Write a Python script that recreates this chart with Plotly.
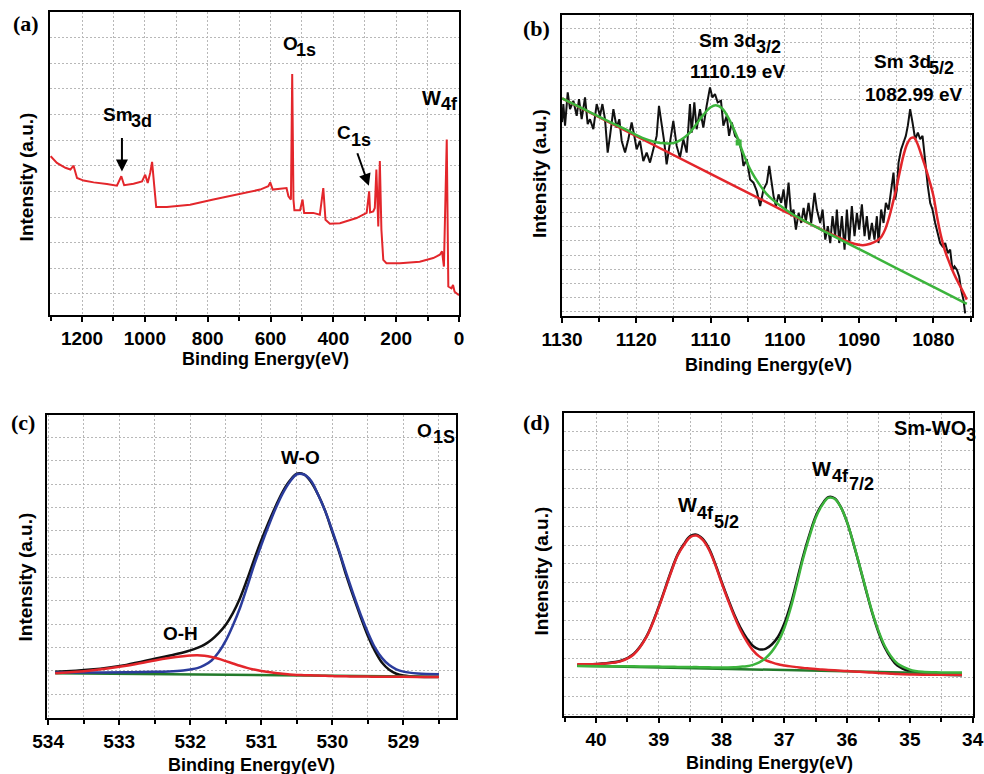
import plotly.graph_objects as go

W, H = 984, 774
SANS = "Liberation Sans"
SERIF = "Liberation Serif"

# ---------------- (a) survey spectrum ----------------
survey_be = [1300, 1280, 1253, 1237, 1227, 1216, 1195, 1163, 1121, 1089, 1075, 1066, 1036, 1009,
             999, 991, 983, 977, 970, 964, 930, 856, 782, 697, 633, 607, 601, 593, 549, 543, 535,
             531, 527, 524, 506, 498, 493, 464, 443, 432, 425, 411, 379, 326, 294, 286, 283, 273,
             268, 263, 257, 252, 247, 241, 231, 188, 125, 82, 61, 54, 48, 39, 34, 24, 19, 14, 3, 0]
survey_int = [5.37, 5.11, 4.92, 4.85, 5.00, 4.52, 4.42, 4.35, 4.29, 4.22, 4.59, 4.24, 4.30, 4.39,
              4.65, 4.33, 4.72, 5.15, 4.20, 3.39, 3.39, 3.48, 3.68, 3.90, 4.07, 4.20, 4.35, 4.07,
              4.13, 3.81, 3.68, 8.57, 3.68, 3.26, 3.26, 3.68, 3.16, 3.16, 3.09, 4.13, 2.89, 2.74,
              2.76, 2.96, 3.16, 4.00, 3.18, 3.22, 3.35, 4.85, 2.63, 5.18, 2.50, 1.33, 1.20, 1.20,
              1.26, 1.40, 1.53, 1.66, 1.07, 6.02, 0.29, 0.22, 0.35, 0.09, 0.00, -0.05]

# ---------------- (b) Sm 3d ----------------
sm_be = [1130.0, 1129.83, 1129.6, 1129.24, 1128.93, 1128.48, 1128.03, 1127.72, 1127.36, 1126.91, 1126.55,
         1126.24, 1125.79, 1125.34, 1124.89, 1124.57, 1124.22, 1123.86, 1123.54, 1123.09, 1122.65,
         1122.29, 1121.97, 1121.52, 1121.08, 1120.63, 1120.27, 1119.96, 1119.51, 1119.06, 1118.61,
         1118.16, 1117.71, 1117.26, 1116.95, 1116.59, 1116.23, 1115.92, 1115.47, 1115.02, 1114.57,
         1114.12, 1113.67, 1113.22, 1112.78, 1112.55, 1112.19, 1111.88, 1111.43, 1110.98, 1110.53,
         1110.08, 1109.76, 1109.41, 1109.05, 1108.6, 1108.28, 1107.83, 1107.51, 1107.15, 1106.7,
         1106.25, 1105.8, 1105.58, 1105.13, 1104.68, 1104.23, 1103.78, 1103.33, 1102.88,
         1102.42, 1102.10, 1101.52, 1101.20, 1100.85, 1100.49, 1100.17, 1099.86, 1099.50, 1099.14,
         1098.83, 1098.51, 1098.15, 1097.79, 1097.48, 1097.17, 1096.81, 1096.45, 1096.00, 1095.69,
         1095.24, 1094.92, 1094.56, 1094.21, 1093.89, 1093.58, 1093.22, 1093.00, 1092.68, 1092.32,
         1091.96, 1091.65, 1091.33, 1090.98, 1090.62, 1090.30, 1089.99, 1089.63, 1089.27, 1088.96,
         1088.64, 1088.28, 1087.93, 1087.61, 1087.39, 1087.03, 1086.71, 1086.40, 1086.04, 1085.68,
         1085.37, 1085.14, 1084.92, 1084.69, 1084.34, 1084.02, 1083.71, 1083.44, 1083.13, 1082.81,
         1082.45, 1082.09, 1081.78, 1081.46, 1081.11, 1080.75, 1080.43, 1080.12, 1079.76, 1079.40,
         1079.09, 1078.77, 1078.41, 1078.06, 1077.74, 1077.43, 1077.16, 1076.84, 1076.53, 1076.26,
         1075.95, 1075.72]
sm_int = [13.4, 14.68, 13.15, 15.51, 14.32, 14.91, 13.85, 15.03, 13.61, 15.15, 13.26,
          13.61, 12.90, 14.68, 13.85, 14.68, 13.61, 11.25, 12.43, 14.32, 13.02,
          13.61, 12.07, 11.25, 12.19, 13.38, 12.43, 11.48, 12.07, 10.65, 11.25,
          10.54, 11.48, 12.43, 14.56, 13.38, 11.96, 10.42, 11.96, 13.49, 11.72,
          10.89, 12.19, 11.25, 14.68, 12.66, 14.80, 12.90, 14.32, 13.02, 14.56,
          15.86, 15.15, 15.39, 14.80, 14.91, 13.15, 13.85, 12.43, 13.38, 12.43,
          12.19, 11.25, 10.30, 10.78, 9.35, 9.12, 8.52, 7.46, 8.64,
          9.12, 10.30, 8.17, 7.46, 8.29, 7.69, 8.64, 7.22, 9.12, 6.75,
          7.22, 5.80, 6.98, 6.27, 7.34, 6.39, 7.69, 6.27, 8.40, 7.22,
          6.27, 7.22, 5.09, 6.04, 4.85, 6.75, 5.33, 7.22, 4.85, 6.75,
          4.38, 7.22, 4.85, 7.46, 5.33, 6.98, 5.80, 7.58, 5.33, 6.75,
          5.09, 6.27, 5.09, 6.75, 4.85, 7.22, 6.27, 7.69, 7.22, 8.64,
          9.83, 7.93, 8.64, 10.54, 11.48, 11.96, 12.43, 13.15, 14.32, 13.38,
          12.19, 12.66, 12.19, 12.43, 10.54, 8.88, 7.69, 7.22, 6.27, 5.56,
          4.85, 4.62, 4.85, 4.14, 4.38, 2.96, 3.20, 2.96, 2.49, 1.54,
          0.83, -0.12]

fit32_be = [1130, 1127, 1124, 1121.5, 1119, 1117.5, 1116, 1115, 1114, 1113, 1112, 1111, 1110, 1109.3,
            1108.5, 1107.5, 1106.5, 1105.5, 1104.5, 1103.5, 1102.5, 1101.5, 1100.5, 1099, 1097, 1095,
            1090, 1085, 1080, 1075.5]
fit32_int = [15.08, 14.30, 13.52, 12.90, 12.25, 12.00, 11.90, 11.92, 12.15, 12.55, 13.20, 13.90, 14.45,
             14.60, 14.40, 13.60, 12.45, 11.05, 9.90, 9.05, 8.35, 7.85, 7.45, 6.90, 6.32, 5.76,
             4.42, 3.08, 1.75, 0.54]

fit52_be = [1130, 1120, 1110, 1100, 1095, 1093, 1091, 1089.5, 1088.5, 1087.5, 1087, 1086.5, 1086,
            1085.5, 1085, 1084.5, 1084, 1083.5, 1083, 1082.6, 1082.2, 1081.5, 1081, 1080.5, 1080,
            1079.5, 1079, 1078.5, 1078, 1077.5, 1077, 1076.5, 1076, 1075.5]
fit52_int = [15.08, 12.41, 9.74, 7.08, 5.78, 5.30, 4.85, 4.70, 4.80, 5.05, 5.30, 5.80, 6.60,
             7.60, 8.70, 9.95, 11.10, 11.90, 12.28, 12.30, 11.95, 10.90, 10.10, 9.20, 8.20,
             6.70, 5.40, 4.40, 3.67, 3.00, 2.42, 1.90, 1.40, 0.85]

sm_marker_be = [1106.22]
sm_marker_int = [11.96]

# ---------------- (c) O 1s ----------------
o_be = [533.9, 533.4, 532.9, 532.5, 532.3, 532.1, 532.0, 531.9, 531.8, 531.7, 531.6, 531.5, 531.4,
        531.3, 531.2, 531.1, 531.0, 530.9, 530.8, 530.7, 530.6, 530.5, 530.4, 530.3, 530.2, 530.1,
        530.0, 529.9, 529.8, 529.7, 529.6, 529.5, 529.4, 529.3, 529.2, 529.1, 529.0, 528.8, 528.5]
o_total = [0.96, 1.06, 1.26, 1.52, 1.65, 1.79, 1.88, 1.99, 2.13, 2.34, 2.62, 2.98, 3.48,
           4.12, 4.92, 5.78, 6.60, 7.35, 8.05, 8.68, 9.15, 9.45, 9.42, 9.10, 8.55, 7.85,
           6.95, 6.05, 5.05, 4.15, 3.30, 2.50, 1.85, 1.35, 1.05, 0.88, 0.80, 0.75, 0.74]
o_wo = [0.93, 0.93, 0.94, 0.96, 0.98, 1.02, 1.06, 1.12, 1.25, 1.45, 1.80, 2.30, 2.95,
        3.70, 4.60, 5.55, 6.40, 7.20, 7.95, 8.60, 9.10, 9.43, 9.42, 9.15, 8.55, 7.85,
        7.00, 6.10, 5.15, 4.25, 3.40, 2.65, 2.00, 1.55, 1.25, 1.07, 0.97, 0.89, 0.86]
o_oh = [0.90, 1.02, 1.22, 1.45, 1.55, 1.63, 1.66, 1.67, 1.65, 1.60, 1.52, 1.42, 1.32,
        1.22, 1.13, 1.06, 1.00, 0.95, 0.91, 0.88, 0.85, 0.83, 0.82, 0.81, 0.80, 0.79,
        0.78, 0.77, 0.77, 0.76, 0.76, 0.76, 0.75, 0.75, 0.75, 0.75, 0.75, 0.74, 0.74]
o_base_be = [533.9, 528.5]
o_base = [0.90, 0.75]

# ---------------- (d) W 4f ----------------
w_be = [40.3, 39.9, 39.6, 39.4, 39.2, 39.0, 38.9, 38.8, 38.7, 38.6, 38.5, 38.4, 38.3, 38.2, 38.1,
        38.0, 37.9, 37.8, 37.7, 37.6, 37.5, 37.4, 37.3, 37.2, 37.1, 37.0, 36.9, 36.8, 36.7, 36.6,
        36.5, 36.4, 36.3, 36.2, 36.1, 36.0, 35.9, 35.8, 35.7, 35.6, 35.5, 35.4, 35.3, 35.2, 35.0,
        34.8, 34.5, 34.17]
w_total = [1.64, 1.72, 1.87, 2.23, 3.13, 4.74, 5.69, 6.65, 7.49, 8.05, 8.47, 8.55, 8.32, 7.81, 7.00,
           6.06, 5.17, 4.33, 3.62, 3.06, 2.65, 2.47, 2.50, 2.73, 3.14, 3.84, 4.84, 6.11, 7.42, 8.55,
           9.53, 10.15, 10.54, 10.48, 10.01, 9.20, 8.09, 6.87, 5.61, 4.40, 3.38, 2.57, 2.01, 1.61,
           1.30, 1.18, 1.12, 1.10]
w_52 = [1.68, 1.71, 1.85, 2.20, 3.10, 4.70, 5.65, 6.60, 7.45, 8.00, 8.42, 8.50, 8.27, 7.75, 6.95,
        6.00, 5.10, 4.25, 3.50, 2.90, 2.42, 2.10, 1.90, 1.78, 1.68, 1.62, 1.57, 1.53, 1.49, 1.46,
        1.43, 1.40, 1.38, 1.36, 1.34, 1.32, 1.30, 1.28, 1.26, 1.24, 1.22, 1.20, 1.18, 1.16, 1.14,
        1.13, 1.12, 1.12]
w_72 = [1.59, 1.58, 1.57, 1.57, 1.56, 1.56, 1.55, 1.55, 1.54, 1.54, 1.53, 1.53, 1.52, 1.52, 1.51,
        1.51, 1.51, 1.52, 1.55, 1.58, 1.65, 1.78, 2.00, 2.35, 2.85, 3.60, 4.65, 5.95, 7.30, 8.45,
        9.45, 10.10, 10.50, 10.45, 10.00, 9.20, 8.10, 6.90, 5.65, 4.45, 3.45, 2.65, 2.10, 1.72,
        1.40, 1.28, 1.25, 1.24]
w_base_be = [40.3, 34.17]
w_base = [1.60, 1.18]

# ---------------- styling ----------------
RED = "#e3262b"
GREEN = "#3cb43c"
DKGREEN = "#237a2b"
BLUE = "#2b3c9c"
BLACK = "#111111"
GRID = "#b8b8b8"


def dom(p0, p1, size, flip=False):
    if flip:
        return [1 - p1 / size, 1 - p0 / size]
    return [p0 / size, p1 / size]


def xax(domain, rng, dtick, minor, anchor):
    return dict(domain=domain, range=rng, dtick=dtick, tick0=0, anchor=anchor, automargin=False,
                showline=True, linecolor="black", linewidth=2, mirror=True,
                ticks="outside", ticklen=5, tickwidth=2, tickcolor="black",
                showgrid=True, gridcolor=GRID, griddash="2px,2px", gridwidth=1,
                minor=dict(dtick=minor, tick0=0, ticks="outside", ticklen=4, tickwidth=1.5,
                           tickcolor="black", showgrid=True, gridcolor=GRID,
                           griddash="2px,2px", gridwidth=1),
                tickfont=dict(family=SANS, size=19, color="black", weight="bold"),
                zeroline=False, fixedrange=True)


def yax(domain, rng, anchor):
    return dict(domain=domain, range=rng, dtick=1, tick0=0, anchor=anchor, automargin=False,
                showline=True, linecolor="black", linewidth=2, mirror=True,
                ticks="", showticklabels=False,
                showgrid=True, gridcolor=GRID, griddash="2px,2px", gridwidth=1,
                zeroline=False, fixedrange=True)


fig = go.Figure()

# (a)
fig.add_trace(go.Scatter(x=survey_be, y=survey_int, mode="lines",
                         line=dict(color=RED, width=2), xaxis="x", yaxis="y"))
# (b)
fig.add_trace(go.Scatter(x=sm_be, y=sm_int, mode="lines",
                         line=dict(color=BLACK, width=2), xaxis="x2", yaxis="y2"))
fig.add_trace(go.Scatter(x=fit52_be, y=fit52_int, mode="lines",
                         line=dict(color=RED, width=2.5, shape="spline"), xaxis="x2", yaxis="y2"))
fig.add_trace(go.Scatter(x=fit32_be, y=fit32_int, mode="lines",
                         line=dict(color=GREEN, width=2.5, shape="spline"), xaxis="x2", yaxis="y2"))
fig.add_trace(go.Scatter(x=sm_marker_be, y=sm_marker_int, mode="markers",
                         marker=dict(color=GREEN, size=6, symbol="square"), xaxis="x2", yaxis="y2"))
# (c)
fig.add_trace(go.Scatter(x=o_be, y=o_total, mode="lines",
                         line=dict(color=BLACK, width=2.5, shape="spline"), xaxis="x3", yaxis="y3"))
fig.add_trace(go.Scatter(x=o_base_be, y=o_base, mode="lines",
                         line=dict(color=DKGREEN, width=2.5), xaxis="x3", yaxis="y3"))
fig.add_trace(go.Scatter(x=o_be, y=o_wo, mode="lines",
                         line=dict(color=BLUE, width=2.5, shape="spline"), xaxis="x3", yaxis="y3"))
fig.add_trace(go.Scatter(x=o_be, y=o_oh, mode="lines",
                         line=dict(color=RED, width=2.5, shape="spline"), xaxis="x3", yaxis="y3"))
# (d)
fig.add_trace(go.Scatter(x=w_be, y=w_total, mode="lines",
                         line=dict(color=BLACK, width=2.5, shape="spline"), xaxis="x4", yaxis="y4"))
fig.add_trace(go.Scatter(x=w_base_be, y=w_base, mode="lines",
                         line=dict(color=DKGREEN, width=2.5), xaxis="x4", yaxis="y4"))
fig.add_trace(go.Scatter(x=w_be, y=w_52, mode="lines",
                         line=dict(color=RED, width=2.5, shape="spline"), xaxis="x4", yaxis="y4"))
fig.add_trace(go.Scatter(x=w_be, y=w_72, mode="lines",
                         line=dict(color=GREEN, width=2.5, shape="spline"), xaxis="x4", yaxis="y4"))


def ann(text, x, y, size=19, xanchor="center", yanchor="middle", family=SANS, angle=0):
    return dict(text=text, x=x / W, y=1 - y / H, xref="paper", yref="paper", showarrow=False,
                xanchor=xanchor, yanchor=yanchor, textangle=angle, borderpad=0,
                font=dict(family=family, size=size, color="black", weight="bold"))


def lab(text, x, y, size=19):
    # left-aligned label piece, y = vertical centre of capitals
    return ann(text, x, y, size=size, xanchor="left", yanchor="middle")


anns = [
    # panel labels
    ann("(a)", 25.8, 23.3, size=22, family=SERIF),
    ann("(b)", 536.7, 28.3, size=22, family=SERIF),
    ann("(c)", 22.5, 422.5, size=22, family=SERIF),
    ann("(d)", 536.7, 422.5, size=22, family=SERIF),
    # axis titles
    ann("Binding Energy(eV)", 265.8, 359, size=18),
    ann("Binding Energy(eV)", 768.3, 365, size=18),
    ann("Binding Energy(eV)", 251.7, 765, size=18),
    ann("Binding Energy(eV)", 769, 763, size=18),
    ann("Intensity (a.u.)", 26.7, 176.7, size=19, angle=-90),
    ann("Intensity (a.u.)", 540, 174, size=19, angle=-90),
    ann("Intensity (a.u.)", 25, 577.5, size=19, angle=-90),
    ann("Intensity (a.u.)", 541.7, 570.8, size=19, angle=-90),
    # (a) peak labels
    lab("O", 281.7, 43.3), lab("1s", 294.5, 50, 18),
    lab("Sm", 101.7, 115), lab("3d", 129.5, 121, 18),
    lab("C", 336, 132.7), lab("1s", 349.5, 139.7, 18),
    lab("W", 420.7, 97.5, 20), lab("4f", 440, 104.5, 18),
    # (b)
    lab("Sm 3d", 698.3, 40), lab("3/2", 754.5, 46.7, 18),
    ann("1110.19 eV", 737, 71.7),
    lab("Sm 3d", 872.7, 61.7), lab("5/2", 928, 68.3, 18),
    ann("1082.99 eV", 913.7, 94),
    # (c)
    ann("W-O", 300, 457.5),
    ann("O-H", 180.3, 633),
    lab("O", 416, 430), lab("1S", 432, 437, 18),
    # (d)
    lab("Sm-WO", 892.7, 427.5, 20), lab("3", 964.5, 435, 18),
    lab("W", 810.7, 469.2, 20), lab("4f", 830.5, 476.3, 18), lab("7/2", 848, 484.2, 18),
    lab("W", 676.7, 505, 20), lab("4f", 696, 513.3, 18), lab("5/2", 713, 521.7, 18),
]

# arrows in (a)
anns.append(dict(x=1073, y=4.77, xref="x", yref="y", ax=0, ay=-35, text="", showarrow=True,
                 arrowhead=2, arrowsize=1.2, arrowwidth=2, arrowcolor="black"))
anns.append(dict(x=287, y=4.22, xref="x", yref="y", ax=-12, ay=-34, text="", showarrow=True,
                 arrowhead=2, arrowsize=1.2, arrowwidth=2, arrowcolor="black"))

fig.update_layout(
    template="none",
    width=W, height=H, autosize=False,
    margin=dict(l=0, r=0, t=0, b=0, pad=0, autoexpand=False),
    paper_bgcolor="white", plot_bgcolor="white",
    showlegend=False,
    xaxis=xax(dom(50, 459, W), [1302, 0], 200, 100, "y"),
    yaxis=yax(dom(12.3, 315, H, True), [-0.82, 10.98], "x"),
    xaxis2=xax(dom(561.7, 972, W), [1130.05, 1074.8], 10, 5, "y2"),
    yaxis2=yax(dom(15, 316, H, True), [-0.31, 20.98], "x2"),
    xaxis3=xax(dom(46.7, 456, W), [534.02, 528.26], 1, 0.5, "y3"),
    yaxis3=yax(dom(415, 718.3, H, True), [-1.03, 11.97], "x3"),
    xaxis4=xax(dom(564, 973.3, W), [40.51, 33.99], 1, 0.5, "y4"),
    yaxis4=yax(dom(413.3, 716, H, True), [-1.06, 14.98], "x4"),
    annotations=anns,
)

fig.write_html("out.html", config={"displayModeBar": False},
               post_script="document.body.style.margin='0';document.body.style.overflow='hidden';")
